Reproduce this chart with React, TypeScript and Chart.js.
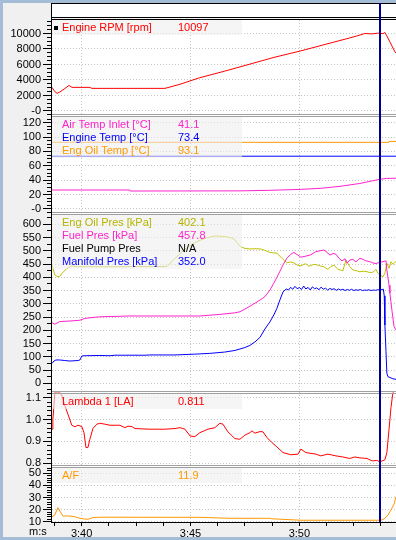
import React, { useEffect, useRef } from 'react';
import { Chart, registerables } from 'chart.js';

Chart.register(...registerables);

const FONT_FAMILY = '"Liberation Sans", Arial, sans-serif';

// ---- time axis (seconds) ----
const X_MIN = 218.64;
const X_MAX = 234.44;
const CURSOR_TIME = 233.72;
const X_MINOR_STEP = 1.25;
const X_MAJOR_STEP = 5;

// ---- series: [time (s), value] ----
const rpmSeries: [number, number][] = [
  [218.64, 3050], [218.77, 2500], [218.87, 2280], [219.0, 2450], [219.23, 2900], [219.42, 3300],
  [219.56, 3050], [220.38, 3050], [220.47, 2920], [223.83, 2920], [224.52, 3450], [225.43, 4300],
  [226.58, 5150], [227.73, 6050], [228.88, 6950], [230.07, 7760], [231.45, 8790], [232.32, 9430],
  [232.65, 9690], [233.01, 10000], [233.34, 9950], [233.61, 10050], [233.84, 9980], [233.93, 10130],
  [234.02, 9690], [234.16, 8920], [234.39, 7630], [234.44, 7450],
];

const airTempSeries: [number, number][] = [
  [218.64, 26.4], [222.21, 26.4], [222.23, 25.0], [227.27, 25.2], [228.65, 26.0], [230.07, 27.3],
  [231.0, 28.8], [231.87, 31.5], [232.78, 35.5], [233.66, 41.1], [234.0, 42.5], [234.44, 42.8],
];

const engineTempSeries: [number, number][] = [
  [218.64, 73.4], [234.44, 73.4],
];

const oilTempSeries: [number, number][] = [
  [218.64, 92.7], [234.11, 92.7], [234.12, 94.0], [234.44, 94.0],
];

const oilPresSeries: [number, number][] = [
  [218.64, 446], [218.77, 409], [218.91, 402], [219.0, 404], [219.1, 415], [219.33, 434],
  [219.55, 443], [219.78, 440], [221.76, 440], [223.92, 441], [224.29, 472], [224.75, 506],
  [225.2, 531], [225.66, 547], [226.12, 556], [226.58, 554], [226.9, 548], [227.04, 541],
  [227.27, 517], [227.5, 509], [227.73, 507], [228.05, 508], [228.28, 506], [228.47, 500],
  [228.65, 494], [228.83, 492], [228.97, 491], [229.11, 480], [229.25, 468], [229.43, 455],
  [229.61, 458], [229.75, 454], [229.89, 447], [230.07, 443], [230.21, 449], [230.3, 451],
  [230.44, 442], [230.53, 444], [230.67, 449], [230.85, 446], [230.99, 442], [231.13, 440],
  [231.31, 430], [231.45, 441], [231.59, 446], [231.77, 430], [231.91, 427], [232.0, 425],
  [232.14, 465], [232.23, 452], [232.32, 440], [232.46, 428], [232.65, 424], [232.78, 421],
  [232.97, 423], [233.11, 421], [233.24, 418], [233.38, 419], [233.52, 430], [233.61, 415],
  [233.7, 409], [233.84, 402], [233.93, 415], [234.02, 453], [234.12, 434], [234.21, 459],
  [234.3, 449], [234.35, 453], [234.44, 461],
];

const fuelPresSeries: [number, number][] = [
  [218.64, 229], [218.77, 223], [219.0, 233], [219.46, 235], [219.92, 238], [220.15, 245],
  [220.84, 251], [222.22, 254], [223.83, 254], [225.43, 254], [226.35, 260], [227.04, 266],
  [227.27, 270], [227.5, 280], [227.73, 291], [227.96, 302], [228.19, 314], [228.42, 327],
  [228.65, 352], [228.83, 378], [228.97, 400], [229.11, 423], [229.25, 447], [229.43, 472],
  [229.61, 487], [229.75, 494], [229.89, 486], [230.07, 476], [230.3, 480], [230.53, 485],
  [230.76, 497], [230.95, 500], [231.13, 503], [231.27, 494], [231.41, 484], [231.55, 490],
  [231.68, 487], [231.82, 472], [231.96, 462], [232.1, 470], [232.19, 453], [232.32, 465],
  [232.46, 468], [232.6, 458], [232.78, 472], [232.92, 468], [233.06, 462], [233.24, 459],
  [233.38, 454], [233.52, 452], [233.66, 456], [233.79, 458], [233.93, 461], [233.98, 462],
  [234.02, 428], [234.12, 370], [234.16, 340], [234.25, 277], [234.35, 214], [234.44, 201],
];

const manifoldPresSeries: [number, number][] = [
  [218.64, 75], [218.73, 84], [218.82, 88], [219.0, 88], [219.23, 86], [219.46, 84],
  [219.83, 86], [219.92, 88], [220.01, 103], [220.11, 104], [220.84, 105], [221.3, 104],
  [221.53, 106], [222.91, 106], [223.14, 107], [224.29, 107], [225.2, 110], [225.89, 113],
  [226.58, 118], [227.04, 124], [227.5, 135], [227.73, 143], [227.96, 156], [228.19, 173],
  [228.42, 205], [228.65, 232], [228.83, 258], [228.97, 283], [229.11, 315], [229.25, 345],
  [229.4, 356], [229.5, 352], [229.6, 362], [229.7, 355], [229.8, 366], [229.9, 357],
  [230.0, 361], [230.1, 354], [230.2, 367], [230.3, 356], [230.4, 362], [230.5, 352],
  [230.6, 364], [230.7, 357], [230.8, 360], [230.9, 353], [231.0, 363], [231.1, 355],
  [231.2, 359], [231.3, 352], [231.4, 358], [231.5, 354], [231.6, 357], [231.7, 351],
  [231.8, 356], [231.9, 352], [232.0, 355], [232.1, 350], [232.2, 354], [232.3, 351],
  [232.4, 355], [232.5, 350], [232.6, 353], [232.7, 351], [232.8, 354], [232.9, 350],
  [233.0, 352], [233.1, 351], [233.2, 353], [233.3, 350], [233.4, 352], [233.5, 351],
  [233.6, 353], [233.7, 352], [233.8, 354], [233.86, 355], [233.9, 330], [233.93, 220],
  [233.98, 120], [234.02, 38], [234.07, 25], [234.16, 22], [234.3, 17], [234.44, 15],
];

const lambdaSeries: [number, number][] = [
  [218.64, 0.956], [218.68, 1.0], [218.73, 1.063], [218.77, 1.125], [218.86, 1.125], [219.0, 1.125],
  [219.1, 1.108], [219.14, 1.108], [219.23, 1.063], [219.37, 1.025], [219.55, 0.974], [219.69, 0.967],
  [219.83, 0.974], [220.01, 0.968], [220.11, 0.94], [220.2, 0.872], [220.29, 0.872], [220.38, 0.91],
  [220.52, 0.959], [220.7, 0.979], [220.84, 0.983], [221.07, 0.979], [221.3, 0.974], [221.76, 0.974],
  [221.99, 0.963], [222.13, 0.97], [222.31, 0.968], [222.45, 0.959], [223.14, 0.956], [223.83, 0.956],
  [224.29, 0.959], [224.52, 0.963], [224.75, 0.956], [224.98, 0.925], [225.2, 0.922], [225.43, 0.94],
  [225.8, 0.956], [226.12, 0.963], [226.35, 0.983], [226.49, 0.979], [226.72, 0.944], [227.04, 0.913],
  [227.27, 0.91], [227.5, 0.929], [227.73, 0.94], [227.82, 0.948], [227.96, 0.938], [228.19, 0.945],
  [228.33, 0.944], [228.51, 0.918], [228.74, 0.895], [228.97, 0.875], [229.25, 0.849], [229.61, 0.839],
  [229.94, 0.842], [230.07, 0.865], [230.3, 0.849], [230.76, 0.842], [230.99, 0.834], [231.31, 0.842],
  [231.68, 0.834], [232.0, 0.829], [232.32, 0.822], [232.55, 0.829], [232.78, 0.825], [233.11, 0.822],
  [233.34, 0.811], [233.56, 0.813], [233.7, 0.807], [233.93, 0.816], [234.02, 0.849], [234.12, 0.956],
  [234.21, 1.055], [234.3, 1.125], [234.35, 1.125],
];

const afrSeries: [number, number][] = [
  [218.64, 14.1], [218.77, 15.5], [218.91, 21.6], [219.0, 18.8], [219.14, 14.7], [219.46, 14.7],
  [219.69, 14.1], [219.92, 12.8], [220.15, 12.2], [220.29, 12.0], [220.52, 13.4], [220.84, 13.7],
  [225.43, 13.6], [226.81, 12.8], [228.65, 12.8], [228.74, 12.4], [230.07, 11.2], [233.75, 11.2],
  [233.84, 11.9], [233.93, 12.8], [234.07, 15.5], [234.21, 19.7], [234.35, 24.4], [234.44, 30.7],
];

// ---- legend rows per panel ----
const rpmLegend = [{ label: 'Engine RPM [rpm]', value: '10097', color: '#ff0000' }];
const tempLegend = [
  { label: 'Air Temp Inlet [°C]', value: '41.1', color: '#ff22cc' },
  { label: 'Engine Temp [°C]', value: '73.4', color: '#0000ff' },
  { label: 'Eng Oil Temp [°C]', value: '93.1', color: '#ff9900' },
];
const presLegend = [
  { label: 'Eng Oil Pres [kPa]', value: '402.1', color: '#b5b500' },
  { label: 'Fuel Pres [kPa]', value: '457.8', color: '#ff22cc' },
  { label: 'Fuel Pump Pres', value: 'N/A', color: '#000000' },
  { label: 'Manifold Pres [kPa]', value: '352.0', color: '#0000ff' },
];
const lambdaLegend = [{ label: 'Lambda 1 [LA]', value: '0.811', color: '#ff0000' }];
const afrLegend = [{ label: 'A/F', value: '11.9', color: '#ff9900' }];

// ---- panels (stacked y axes) ----
const PANELS = [
  { id: 'yRpm', min: -581, max: 11742, minor: 500, major: 2000, weight: 95.5, order: 5, decimals: 0, zero: '-0', legend: rpmLegend, marker: true },
  { id: 'yTemp', min: -6.26, max: 130.0, minor: 5, major: 20, weight: 98, order: 4, decimals: 0, zero: '-0', legend: tempLegend, marker: false },
  { id: 'yPres', min: -34.7, max: 640.8, minor: 25, major: 50, weight: 179, order: 3, decimals: 0, zero: '0', legend: presLegend, marker: false },
  { id: 'yLambda', min: 0.7854, max: 1.1238, minor: 0.02, major: 0.1, weight: 74, order: 2, decimals: 1, zero: '0', legend: lambdaLegend, marker: false },
  { id: 'yAfr', min: 9.75, max: 55.6, minor: 2, major: 10, weight: 55.5, order: 1, decimals: 0, zero: '0', legend: afrLegend, marker: false },
];

const DATASETS = [
  { label: 'Engine RPM', series: rpmSeries, axis: 'yRpm', color: '#ff0000' },
  { label: 'Air Temp Inlet', series: airTempSeries, axis: 'yTemp', color: '#ff22cc' },
  { label: 'Engine Temp', series: engineTempSeries, axis: 'yTemp', color: '#0000ff' },
  { label: 'Eng Oil Temp', series: oilTempSeries, axis: 'yTemp', color: '#ff9900' },
  { label: 'Manifold Pres', series: manifoldPresSeries, axis: 'yPres', color: '#0000ff' },
  { label: 'Fuel Pres', series: fuelPresSeries, axis: 'yPres', color: '#ff22cc' },
  { label: 'Eng Oil Pres', series: oilPresSeries, axis: 'yPres', color: '#c0c000' },
  { label: 'Lambda 1', series: lambdaSeries, axis: 'yLambda', color: '#ff0000' },
  { label: 'A/F', series: afrSeries, axis: 'yAfr', color: '#ff9900' },
];

const GRID_COLOR = '#c4c4c4';
const FRAME_COLOR = '#a4bcd6';
const PANEL_BG = '#f0f0f0';

const isMajor = (v: number, step: number) => Math.abs(v / step - Math.round(v / step)) < 1e-6;

// tick values at every multiple of `step` inside [min, max]
const tickValues = (min: number, max: number, step: number) => {
  const out: { value: number }[] = [];
  const k0 = Math.ceil(min / step - 1e-9);
  const k1 = Math.floor(max / step + 1e-9);
  for (let k = k0; k <= k1; k++) out.push({ value: Number((k * step).toFixed(6)) });
  return out;
};

const fmtTime = (t: number) => {
  const m = Math.floor(t / 60 + 1e-9);
  const s = Math.round(t - m * 60);
  return `${m}:${String(s).padStart(2, '0')}`;
};

const decorPlugin = {
  id: 'decor',
  beforeDraw(chart: any) {
    const { ctx, chartArea: a, width, height } = chart;
    ctx.save();
    ctx.fillStyle = FRAME_COLOR;
    ctx.fillRect(0, 0, width, height);
    ctx.fillStyle = PANEL_BG;
    ctx.fillRect(3, 3, width - 3, height - 6);
    ctx.fillStyle = '#ffffff';
    ctx.fillRect(a.left, 4, a.right - a.left, 13);
    ctx.fillRect(a.left, a.top, a.right - a.left, a.bottom - a.top);
    ctx.restore();
  },
  afterDatasetsDraw(chart: any) {
    const { ctx, chartArea: a, scales } = chart;
    ctx.save();
    const w = a.right - a.left;

    // separators between panels
    PANELS.forEach((p, i) => {
      if (i === PANELS.length - 1) return;
      const b = Math.floor(scales[p.id].bottom);
      ctx.fillStyle = '#a0a0a0';
      ctx.fillRect(a.left - 1, b - 1, w + 1, 1);
      ctx.fillRect(a.left - 1, b + 1, w + 1, 1);
    });

    // legends
    ctx.font = `11px ${FONT_FAMILY}`;
    ctx.textBaseline = 'middle';
    ctx.textAlign = 'left';
    PANELS.forEach((p, i) => {
      const s = scales[p.id];
      const top = i === 0 ? Math.floor(s.top) : Math.floor(s.top) + 2;
      const rows = p.legend.length;
      ctx.fillStyle = 'rgba(238,238,238,0.6)';
      ctx.fillRect(a.left, top, 190, rows * 13 + 2);
      if (p.marker) {
        ctx.fillStyle = '#000';
        ctx.fillRect(a.left + 2, top + 6, 4, 4);
      }
      p.legend.forEach((row, r) => {
        const y = top + 8 + r * 13;
        ctx.fillStyle = row.color;
        ctx.fillText(row.label, a.left + 10, y);
        ctx.fillText(row.value, a.left + 126, y);
      });
    });

    // y tick marks (major / minor)
    ctx.fillStyle = '#000';
    PANELS.forEach((p) => {
      const s = scales[p.id];
      s.ticks.forEach((t: any) => {
        const y = Math.floor(s.getPixelForValue(t.value));
        if (y < s.top || y > s.bottom) return;
        const major = isMajor(t.value, p.major);
        const len = major ? 8 : 4;
        ctx.fillRect(a.left - 1 - len, y, len, 1);
      });
    });

    // axis line and top box
    ctx.fillRect(a.left - 1, 3, 1, a.bottom - 3);
    ctx.fillRect(a.left - 1, 3, w + 1, 1);
    ctx.fillRect(a.left - 1, 17, w + 1, 1);
    ctx.fillRect(a.left - 1, 19, w + 1, 1);
    ctx.fillRect(a.left - 1, a.bottom, w + 1, 1);

    // cursor
    const cx = scales.x.getPixelForValue(CURSOR_TIME);
    ctx.fillStyle = '#000090';
    ctx.fillRect(Math.round(cx) - 1, 3, 2, a.bottom - 3);

    // axis unit label
    ctx.fillStyle = '#000';
    ctx.font = `11px ${FONT_FAMILY}`;
    ctx.textBaseline = 'middle';
    ctx.fillText('m:s', 29, 532);
    ctx.restore();
  },
};

export default function App() {
  const ref = useRef<HTMLCanvasElement>(null);

  useEffect(() => {
    const canvas = ref.current;
    if (!canvas) return;

    const scales: any = {
      x: {
        type: 'linear',
        position: 'bottom',
        min: X_MIN,
        max: X_MAX,
        afterFit: (s: any) => { s.height = 15; },
        afterBuildTicks: (s: any) => { s.ticks = tickValues(X_MIN, X_MAX, X_MINOR_STEP); },
        ticks: {
          autoSkip: false,
          maxRotation: 0,
          minRotation: 0,
          padding: 1,
          color: '#000',
          font: { family: FONT_FAMILY, size: 11 },
          callback: (v: any) => (isMajor(Number(v), X_MAJOR_STEP) ? fmtTime(Number(v)) : ''),
        },
        grid: {
          color: (c: any) => (c.tick && isMajor(c.tick.value, X_MAJOR_STEP) ? GRID_COLOR : 'transparent'),
          lineWidth: 1,
          drawTicks: true,
          tickLength: 4,
          tickColor: '#000',
        },
        border: { display: false, dash: [1, 2] },
      },
    };

    PANELS.forEach((p) => {
      scales[p.id] = {
        type: 'linear',
        position: 'left',
        stack: 'panels',
        stackWeight: p.weight,
        weight: p.order,
        min: p.min,
        max: p.max,
        afterFit: (s: any) => { s.width = 49; },
        afterBuildTicks: (s: any) => { s.ticks = tickValues(p.min, p.max, p.minor); },
        ticks: {
          autoSkip: false,
          padding: 11,
          color: '#000',
          font: { family: FONT_FAMILY, size: 11 },
          callback: (v: any) => {
            const n = Number(v);
            if (!isMajor(n, p.major)) return '';
            if (Math.abs(n) < 1e-9) return p.zero;
            return n.toFixed(p.decimals);
          },
        },
        grid: {
          drawTicks: false,
          lineWidth: 1,
          color: (c: any) => (c.tick && isMajor(c.tick.value, p.major) ? GRID_COLOR : 'transparent'),
        },
        border: { display: false, dash: [1, 2] },
      };
    });

    const chart = new Chart(canvas, {
      type: 'line',
      data: {
        datasets: DATASETS.map((d) => ({
          label: d.label,
          data: d.series.map(([x, y]) => ({ x, y })),
          yAxisID: d.axis,
          xAxisID: 'x',
          borderColor: d.color,
          backgroundColor: d.color,
          borderWidth: 1,
          pointRadius: 0,
          pointHoverRadius: 0,
          tension: 0,
          fill: false,
        })),
      },
      options: {
        responsive: false,
        animation: false,
        devicePixelRatio: 1,
        events: [],
        layout: { padding: { left: 3, top: 20, right: 0, bottom: 3 } },
        plugins: {
          legend: { display: false },
          tooltip: { enabled: false },
        },
        scales,
      } as any,
      plugins: [decorPlugin],
    });

    return () => chart.destroy();
  }, []);

  return (
    <div style={{ position: 'fixed', left: 0, top: 0, width: 396, height: 540, overflow: 'hidden' }}>
      <canvas ref={ref} width={396} height={540} style={{ display: 'block', width: 396, height: 540 }} />
    </div>
  );
}
